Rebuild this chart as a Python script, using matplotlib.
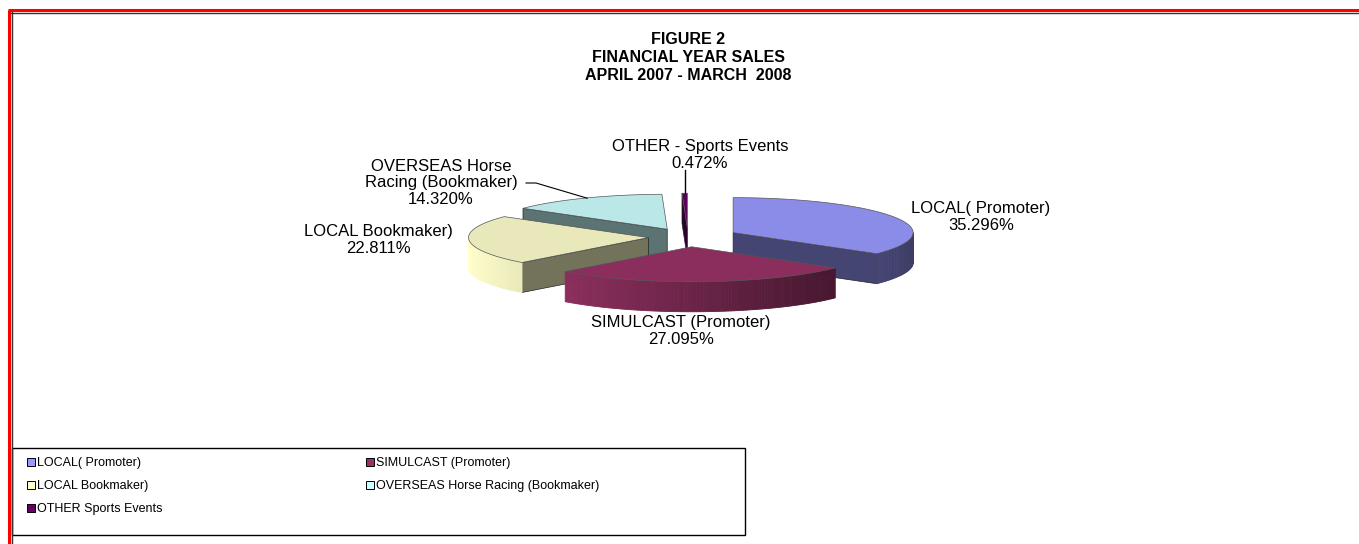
import matplotlib.pyplot as plt
import numpy as np
from matplotlib.patches import Polygon, Rectangle, Patch
from matplotlib.colors import to_rgb

plt.rcParams['font.family'] = ['Liberation Sans', 'DejaVu Sans']

# data
slice_labels = ["LOCAL( Promoter)", "SIMULCAST (Promoter)", "LOCAL Bookmaker)",
                "OVERSEAS Horse\nRacing (Bookmaker)", "OTHER - Sports Events"]
legend_labels = ["LOCAL( Promoter)", "SIMULCAST (Promoter)", "LOCAL Bookmaker)",
                 "OVERSEAS Horse Racing (Bookmaker)", "OTHER Sports Events"]
shares = [35.296, 27.095, 22.811, 14.320, 0.472]
colors = ['#9999FF', '#993366', '#FFFFCC', '#CCFFFF', '#660066']
explode = [0.28, 0.28, 0.22, 0.25, 0.25]
label_pos = [(981, 217), (681, 331), (378, 240), (441, 183), (700, 155)]

W, H = 1359, 544
fig = plt.figure(figsize=(W / 100, H / 100), dpi=100)
ax = fig.add_axes([0, 0, 1, 1])
ax.set_xlim(0, W)
ax.set_ylim(H, 0)
ax.axis('off')

# frame
ax.plot([8, W], [10, 10], color='red', lw=2.2, solid_capstyle='butt')
ax.plot([9, 9], [10, H], color='red', lw=2.2, solid_capstyle='butt')
ax.plot([11, W], [12.5, 12.5], color='#333333', lw=1.0)
ax.plot([11.5, 11.5], [12, H], color='#333333', lw=1.0)

ax.text(688, 58, "FIGURE 2\nFINANCIAL YEAR SALES\nAPRIL 2007 - MARCH  2008",
        ha='center', va='center', fontsize=11.5, fontweight='bold', linespacing=1.25)


def shade(c, f):
    return tuple(np.clip(np.array(to_rgb(c)) * f, 0, 1))


# pseudo 3d exploded pie
cx, cy, rx, ry, depth = 688, 237, 180, 35, 30
fr = np.array(shares) / sum(shares)
hi = 90 - np.concatenate([[0], np.cumsum(fr)[:-1]]) * 360
lo = hi - fr * 360

slices = []
for i in range(len(shares)):
    mid = np.radians((hi[i] + lo[i]) / 2)
    ox = cx + explode[i] * rx * np.cos(mid)
    oy = cy - explode[i] * ry * np.sin(mid)
    slices.append((oy, i, ox))


def rim(ox, oy, t):
    return ox + rx * np.cos(t), oy - ry * np.sin(t)


apex = {}
for oy, i, ox in sorted(slices):
    apex[i] = (ox, oy)
    a, b = np.radians(lo[i]), np.radians(hi[i])
    c = colors[i]
    # cut faces
    for t, vis in ((a, np.cos(a) > 0.01), (b, np.cos(b) < -0.01)):
        if vis:
            px, py = rim(ox, oy, t)
            ax.add_patch(Polygon([(ox, oy), (px, py), (px, py + depth), (ox, oy + depth)],
                                 closed=True, facecolor=shade(c, 0.45),
                                 edgecolor='#222222', lw=0.5, zorder=2))
    # outer wall
    ts = np.linspace(a, b, max(int(np.degrees(b - a)), 2) + 1)
    for t0, t1 in zip(ts[:-1], ts[1:]):
        tm = (t0 + t1) / 2
        if np.sin(tm) < 0:
            f = 1 - 0.6 * (np.cos(tm) + 1) / 2
            x0, y0 = rim(ox, oy, t0)
            x1, y1 = rim(ox, oy, t1)
            col = shade(c, f)
            ax.add_patch(Polygon([(x0, y0), (x1, y1), (x1, y1 + depth), (x0, y0 + depth)],
                                 closed=True, facecolor=col, edgecolor=col, lw=0.6, zorder=2))
    # top face
    tt = np.linspace(a, b, 200)
    xs, ys = rim(ox, oy, tt)
    pts = [(ox, oy)] + list(zip(xs, ys))
    ax.add_patch(Polygon(pts, closed=True, facecolor=shade(c, 0.91),
                         edgecolor='#555555', lw=0.5, zorder=2))

# slice labels
for i, (lx, ly) in enumerate(label_pos):
    ax.text(lx, ly, f"{slice_labels[i]}\n{shares[i]:.3f}%", ha='center', va='center',
            fontsize=12, linespacing=1.12, zorder=3)

# leader lines
ox, oy = apex[3]
m = np.radians((hi[3] + lo[3]) / 2)
ex, ey = rim(ox, oy, m)
ax.plot([526, 536, ex + 3], [183, 183, ey], color='black', lw=0.8, zorder=3)
ox, oy = apex[4]
m = np.radians((hi[4] + lo[4]) / 2)
ex, ey = rim(ox, oy, m)
ax.plot([ex, ex], [170, ey], color='black', lw=1.0, zorder=3)

# legend
order = [0, 2, 4, 1, 3]
handles = [Patch(facecolor=colors[k], edgecolor='black', lw=0.7) for k in order]
ax.legend(handles, [legend_labels[k] for k in order], ncol=2, frameon=False,
          fontsize=9, loc='upper left', bbox_to_anchor=(27, 457),
          bbox_transform=ax.transData, handlelength=0.6, handleheight=0.6,
          handletextpad=0.2, columnspacing=16.3, labelspacing=0.88,
          borderpad=0, borderaxespad=0)
ax.add_patch(Rectangle((12, 448), 733, 87, facecolor='none', edgecolor='black', lw=1.0))

fig.savefig('out.png', dpi=100)
